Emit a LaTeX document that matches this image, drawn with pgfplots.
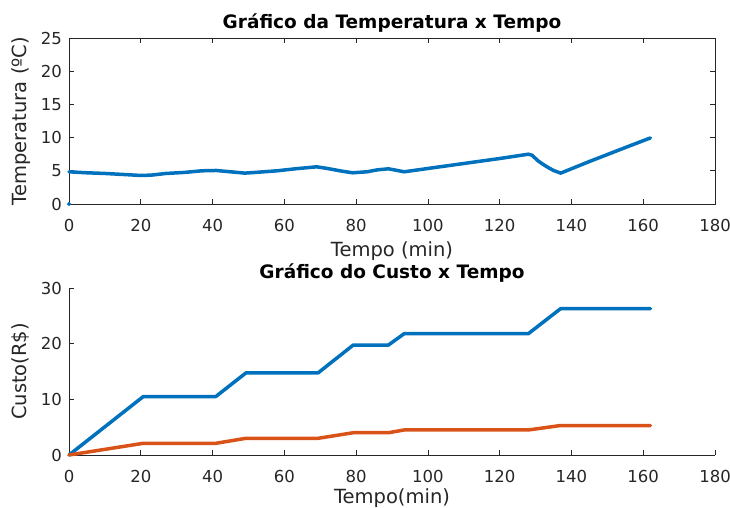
\documentclass[border=0pt]{standalone}
\usepackage{fontspec}
\setmainfont{DejaVu Sans}
\usepackage{pgfplots}
\pgfplotsset{compat=1.18}
\definecolor{mblue}{rgb}{0,0.447,0.741}
\definecolor{morange}{rgb}{0.85,0.325,0.098}
\definecolor{mgray}{rgb}{0.15,0.15,0.15}
\pgfplotsset{mstyle/.style={
  scale only axis, width=646pt, xmin=0, xmax=180, xtick={0,20,...,180},
  tick align=inside, major tick length=5pt,
  axis line style={mgray, line width=0.7pt},
  every tick/.style={mgray, line width=0.7pt},
  tick label style={font=\fontsize{16.5}{18}\selectfont, text=mgray},
  label style={font=\fontsize{19.5}{22}\selectfont, text=mgray},
  title style={font=\bfseries\fontsize{18.5}{22}\selectfont, text=black,
    at={(axis description cs:0.5,1)}, anchor=center, yshift=9pt},
  /pgf/number format/assume math mode=true,
  xticklabel style={anchor=north, inner sep=0pt, yshift=-15.5pt},
  yticklabel style={anchor=east, inner sep=0pt, xshift=-7pt},
  ylabel style={at={(axis description cs:-0.0745,0.5)}, anchor=center, inner sep=0pt},
  clip=false,
}}
\begin{document}
\begin{tikzpicture}[x=1pt,y=1pt]
\path[use as bounding box] (0,0) rectangle (730,507);
\clip (0,0) rectangle (730,507);
\begin{axis}[mstyle, at={(69pt,303pt)}, anchor=south west, height=166pt,
  ymin=0, ymax=25, ytick={0,5,...,25},
  title={Gráfico da Temperatura x Tempo},
  xlabel style={at={(axis description cs:0.5,0)}, anchor=north, inner sep=0pt, yshift=-37pt},
  xlabel={Tempo (min)}, ylabel={Temperatura (ºC)}]
\addplot[mblue, line width=3.5pt, line cap=round, line join=round] coordinates {
(0,4.85) (5,4.7) (10,4.6) (15,4.45) (20,4.3) (23,4.35) (27,4.6) (32,4.75)
(37,5.0) (41,5.05) (45,4.85) (49,4.65) (53,4.8) (58,5.0) (63,5.3) (67,5.5)
(69,5.6) (72,5.35) (76,4.95) (79,4.7) (83,4.85) (86,5.15) (89,5.3) (91,5.1)
(93.4,4.85) (100,5.35) (110,6.1) (120,6.85) (128,7.5) (129,7.35) (130.7,6.5)
(132,6.0) (133.5,5.5) (135,5.05) (137,4.65) (145,6.4) (155,8.5) (162,9.95)
};
\addplot[only marks, mark=*, mark size=1.8pt, mblue] coordinates {(0,0)};
\end{axis}
\begin{axis}[mstyle, at={(69pt,52pt)}, anchor=south west, height=167pt,
  axis x line*=bottom, axis y line*=left,
  ymin=0, ymax=30, ytick={0,10,20,30},
  title={Gráfico do Custo x Tempo},
  xlabel style={at={(axis description cs:0.5,0)}, anchor=north, inner sep=0pt, yshift=-33pt},
  xlabel={Tempo(min)}, ylabel={Custo(R\$)}]
\addplot[mblue, line width=3.5pt, line cap=round, line join=round] coordinates {
(0,0) (20.7,10.5) (40.9,10.5) (49.3,14.75) (69.4,14.75) (79.2,19.75) (89,19.75)
(93.4,21.8) (128,21.8) (137,26.3) (162,26.3)
};
\addplot[morange, line width=3.5pt, line cap=round, line join=round] coordinates {
(0,0) (20.7,2.1) (40.9,2.1) (49.3,3.0) (69.4,3.0) (79.2,4.0) (89,4.0)
(93.4,4.5) (128,4.5) (137,5.3) (162,5.3)
};
\end{axis}
\end{tikzpicture}
\end{document}
